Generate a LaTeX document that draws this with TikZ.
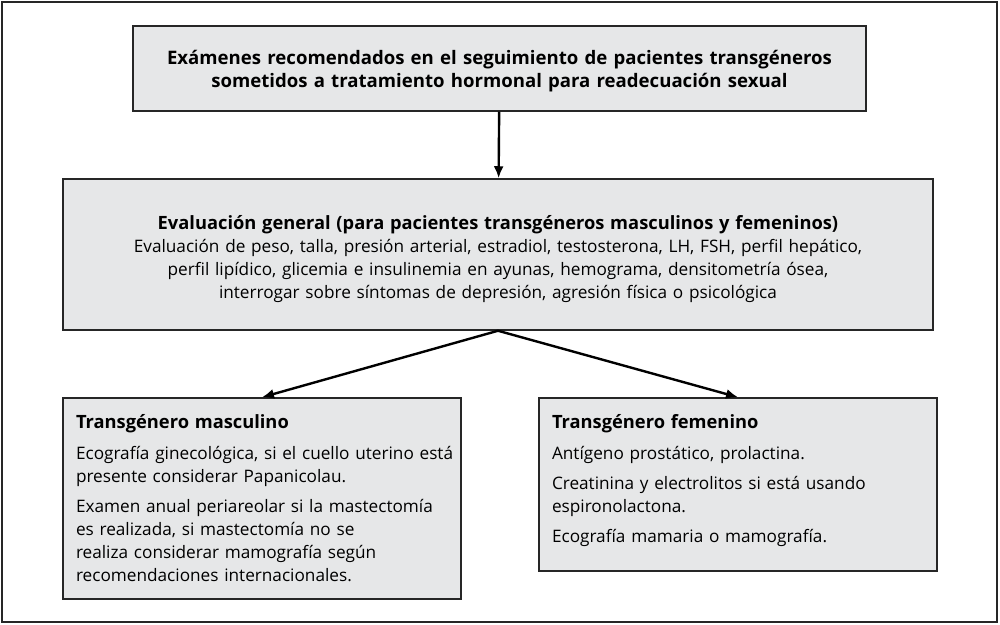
\documentclass[tikz,border=0pt]{standalone}
\usepackage{fontspec}
\setmainfont{Open Sans}
\usepackage{tikz}
\usetikzlibrary{arrows.meta,calc,positioning}
\definecolor{boxgray}{HTML}{E6E7E8}
\tikzset{
	mainbox/.style = {draw=black!85, fill=boxgray, line width=0.75pt, inner sep=0pt, align=center},
	sidebox/.style = {draw=black!85, fill=boxgray, line width=0.75pt, inner xsep=6.5pt, inner ysep=0pt,
		text width=186pt, minimum width=199pt, align=left},
	flow/.style    = {line width=1.2pt, -{Latex[length=6pt,width=5pt]}},
}
\newcommand{\gap}{\par\vspace{3.5pt}}
\newcommand{\padbottom}[1]{\par\vspace{#1}\hrule height 0pt width 0pt}
\newcommand{\headfont}{\fontsize{9.15pt}{11.5pt}\selectfont\bfseries}

\begin{document}
\begin{tikzpicture}[x=0.5pt, y=-0.5pt, font=\fontsize{8.6pt}{11.5pt}\selectfont]
		\useasboundingbox (0,0) rectangle (1000,625);
		\draw[line width=0.75pt, black!85] (2,2) rectangle (997,622);
		% top and general boxes
		\node[mainbox, text width=366.5pt, minimum height=42.5pt,
			font=\fontsize{9.3pt}{11.5pt}\selectfont\bfseries] (titulo) at (499.5,68.5)
			{Exámenes recomendados en el seguimiento de pacientes transgéneros\\
			 sometidos a tratamiento hormonal para readecuación sexual\padbottom{-3pt}};
		\node[mainbox, text width=435pt, minimum height=75.5pt] (general) at (498,254.5)
			{{\headfont Evaluación general (para pacientes transgéneros masculinos y femeninos)}\\
			 Evaluación de peso, talla, presión arterial, estradiol, testosterona, LH, FSH, perfil hepático,\\
			 perfil lipídico, glicemia e insulinemia en ayunas, hemograma, densitometría ósea,\\
			 interrogar sobre síntomas de depresión, agresión física o psicológica\padbottom{-4.5pt}};
		% branches
		\node[sidebox, minimum height=100.5pt] (masc) at (262,498.5)
			{{\headfont Transgénero masculino}\par\vspace{4pt}
			 \mbox{Ecografía ginecológica, si el cuello uterino está}\\ presente considerar Papanicolau.\gap
			 Examen anual periareolar si la mastectomía\\ es realizada, si mastectomía no se\\
			 realiza considerar mamografía según\\ recomendaciones internacionales.};
		\node[sidebox, minimum height=86.5pt] (fem) at (738,484.5)
			{{\headfont Transgénero femenino}\par\vspace{4pt}
			 Antígeno prostático, prolactina.\gap
			 Creatinina y electrolitos si está usando\\ espironolactona.\gap
			 Ecografía mamaria o mamografía.\padbottom{3.5pt}};
		\draw[flow] (titulo) -- (general);
		\draw[flow] (general.south) -- (masc.north);
		\draw[flow] (general.south) -- (fem.north);
	\end{tikzpicture}
\end{document}
